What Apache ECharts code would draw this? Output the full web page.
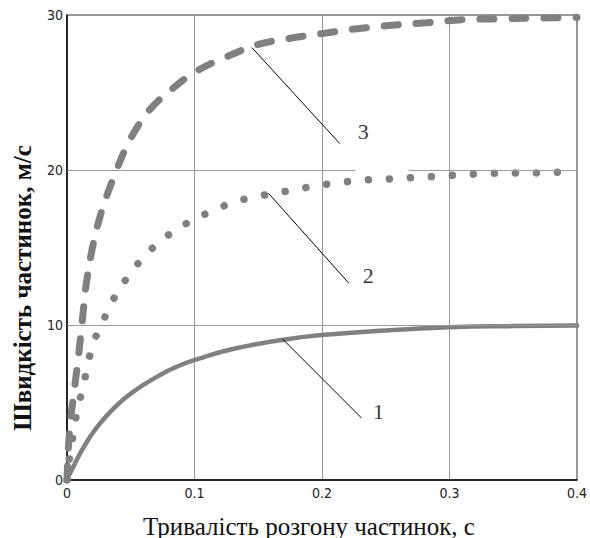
<!DOCTYPE html>
<html>
<head>
<meta charset="utf-8">
<script src="https://cdn.jsdelivr.net/npm/echarts@6/dist/echarts.min.js"></script>
<style>html,body{margin:0;padding:0;background:#fff}#c{width:590px;height:538px}</style>
</head>
<body>
<div id="c"></div>
<script>
// ---- data (t in s, v in m/s) ----
const curve1 = [[0,0],[0.001,0.21],[0.005,0.86],[0.0089,1.5],[0.0141,2.26],[0.0207,3.1],[0.0285,3.9],[0.0376,4.7],[0.0468,5.37],[0.0599,6.13],[0.0729,6.77],[0.086,7.31],[0.1017,7.78],[0.13,8.45],[0.17,9.05],[0.2,9.35],[0.25,9.65],[0.3,9.85],[0.35,9.93],[0.4,9.96]];
const curve2 = [[0,0],[0.002,1.5],[0.005,3],[0.008,4.5],[0.012,5.8],[0.016,7.3],[0.02,8.7],[0.028,10.2],[0.036,11.6],[0.045,12.8],[0.055,13.9],[0.065,14.8],[0.076,15.6],[0.089,16.3],[0.101,16.9],[0.116,17.4],[0.129,17.9],[0.144,18.2],[0.159,18.45],[0.177,18.7],[0.193,18.95],[0.21,19.15],[0.226,19.3],[0.244,19.4],[0.26,19.45],[0.277,19.55],[0.293,19.6],[0.31,19.7],[0.326,19.75],[0.344,19.8],[0.362,19.8],[0.378,19.85],[0.4,19.87]];
const curve3 = [[0,0],[0.001,2],[0.003,4],[0.006,6],[0.009,8],[0.012,10.3],[0.015,12.6],[0.02,15],[0.027,17.3],[0.037,19.6],[0.049,21.9],[0.065,23.9],[0.085,25.4],[0.102,26.4],[0.125,27.3],[0.15,28.1],[0.175,28.5],[0.2,28.8],[0.226,29.1],[0.25,29.3],[0.282,29.5],[0.31,29.7],[0.337,29.75],[0.365,29.8],[0.4,29.85]];
const curveLabels = ['1','2','3'];
const labelPositions = [[0.240,4.4],[0.232,13.2],[0.228,22.5]];
const leaderLines = [
  [[0.169,9.1],[0.231,4.0]],
  [[0.158,18.5],[0.221,12.7]],
  [[0.145,27.9],[0.214,21.7]]
];
const xTicks = [0, 0.1, 0.2, 0.3, 0.4];
const yTicks = [0, 10, 20, 30];
const yGridLines = [10, 20];
const yGridGapAt20 = [0.226, 0.268];
const xTitle = 'Тривалість розгону частинок, с';
const yTitle = 'Швидкість частинок, м/с';

const GRAY = '#808080';
const chart = echarts.init(document.getElementById('c'), null, {renderer: 'svg'});

const gridSegs = [];
yGridLines.forEach(v => {
  if (v === 20) {
    gridSegs.push([{coord:[xTicks[0], v]}, {coord:[yGridGapAt20[0], v]}]);
    gridSegs.push([{coord:[yGridGapAt20[1], v]}, {coord:[xTicks[xTicks.length-1], v]}]);
  } else {
    gridSegs.push([{coord:[xTicks[0], v]}, {coord:[xTicks[xTicks.length-1], v]}]);
  }
});

const tickFont = 'Liberation Sans Narrow, DejaVu Sans Condensed, Liberation Sans, sans-serif';
const option = {
  animation: false,
  backgroundColor: '#fff',
  grid: {left: 67, top: 15, right: 13, bottom: 58, show: true, borderColor: '#333', borderWidth: 1},
  xAxis: {
    type: 'value', min: xTicks[0], max: xTicks[xTicks.length-1], interval: 0.1,
    axisLine: {show: true, lineStyle: {color: '#000', width: 1.5}},
    axisTick: {show: false},
    splitLine: {show: true, lineStyle: {color: '#999', width: 1}},
    axisLabel: {color: '#222', fontSize: 14, fontFamily: tickFont, margin: 6,
      formatter: v => String(Math.round(v*10)/10)}
  },
  yAxis: {
    type: 'value', min: yTicks[0], max: yTicks[yTicks.length-1], interval: 10,
    axisLine: {show: true, lineStyle: {color: '#000', width: 1.5}},
    axisTick: {show: false},
    splitLine: {show: false},
    axisLabel: {color: '#222', fontSize: 14, fontFamily: tickFont, margin: 4}
  },
  graphic: [
    {type: 'text', x: 309, y: 526, style: {text: xTitle, font: '25px "Liberation Serif", serif', fill: '#111', align: 'center', verticalAlign: 'middle'}},
    {type: 'text', x: 22, y: 288, rotation: Math.PI/2, style: {text: yTitle, font: 'bold 25px "Liberation Serif", serif', fill: '#111', align: 'center', verticalAlign: 'middle'}}
  ],
  series: [
    {type: 'line', z: 1, data: [], silent: true,
      markLine: {silent: true, symbol: ['none','none'], label: {show: false},
        lineStyle: {color: '#999', width: 1, type: 'solid'}, data: gridSegs}},
    {type: 'line', z: 3, data: leaderLines[0], showSymbol: false, silent: true,
      markLine: {silent: true, symbol: ['none','none'], label: {show: false},
        lineStyle: {color: '#000', width: 1, type: 'solid'},
        data: leaderLines.map(s => [{coord: s[0]}, {coord: s[1]}])},
      lineStyle: {opacity: 0}},
    {name: '1', type: 'line', z: 2, data: curve1, smooth: 0.5, showSymbol: false,
      lineStyle: {color: GRAY, width: 4.5, cap: 'round'}},
    {name: '2', type: 'line', z: 2, data: curve2, smooth: 0.35, showSymbol: false,
      lineStyle: {color: GRAY, width: 7.5, type: [0.01, 21], cap: 'round'}},
    {name: '3', type: 'line', z: 2, data: curve3, smooth: 0.35, showSymbol: false,
      lineStyle: {color: GRAY, width: 7, type: [14, 18], cap: 'round'}},
    {type: 'scatter', z: 4, symbolSize: 0, silent: true,
      data: labelPositions.map((p, i) => ({value: p, label: {formatter: curveLabels[i]}})),
      label: {show: true, position: 'right', distance: 0, color: '#000', fontSize: 22, fontFamily: '"Liberation Serif", serif'}}
  ]
};
chart.setOption(option);
</script>
</body>
</html>
